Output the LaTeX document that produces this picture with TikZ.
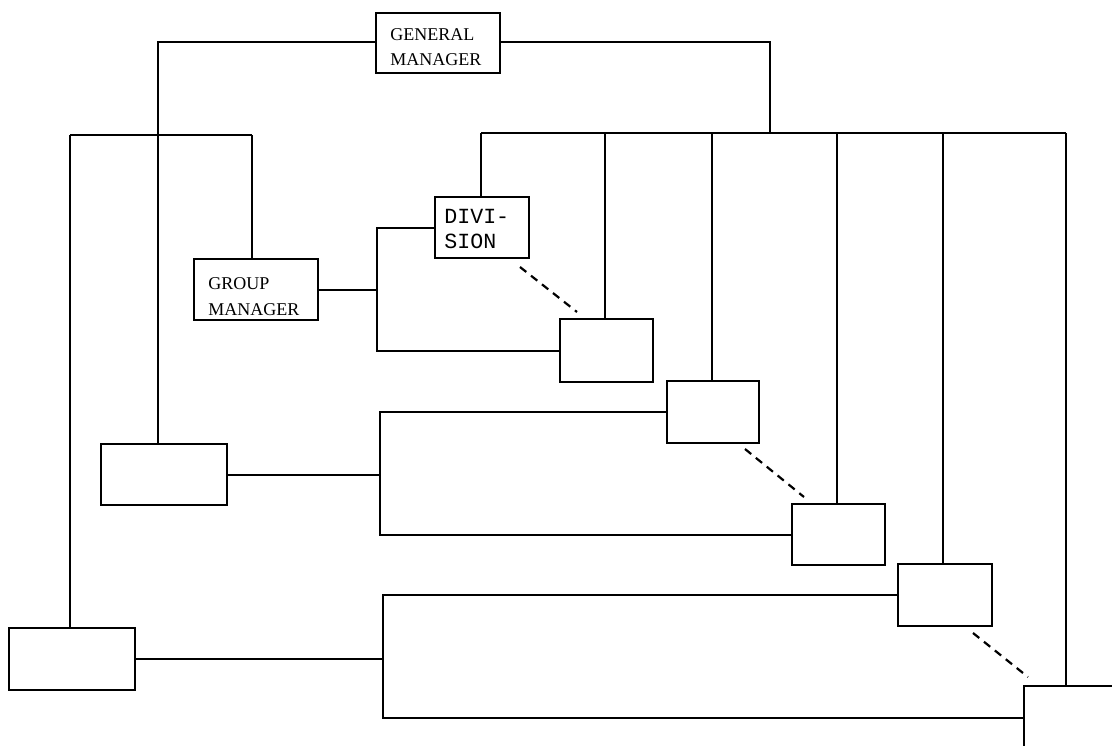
\documentclass[tikz,border=0pt]{standalone}
\usepackage{fontspec}
\setmainfont{Liberation Serif}
\newfontfamily\monofam{Liberation Mono}
\begin{document}
\begin{tikzpicture}[x=0.5pt,y=-0.5pt,
  box/.style={draw, line width=1.1pt, inner sep=0pt, anchor=north west, fill=white},
  conn/.style={line width=1pt},
  dashconn/.style={line width=1.1pt, dash pattern=on 4pt off 3pt},
  lbl/.style={anchor=base west, inner sep=0pt, font=\fontsize{9}{10}\selectfont},
  mlbl/.style={anchor=base west, inner sep=0pt, font=\monofam\fontsize{10.8}{12}\selectfont}]
\useasboundingbox (0,0) rectangle (1112,745);
\clip (0,0) rectangle (1112,745);
% coordinates
\coordinate (busR) at (770,133);
\coordinate (busW) at (481,133);
\coordinate (busE) at (1066,133);
\coordinate (lbusW) at (70,135);
\coordinate (lbusE) at (252,135);
\coordinate (cTop) at (158,443);
\coordinate (fTop) at (70,627);
\coordinate (grpTop) at (252,258);
\coordinate (gTop) at (1066,685);
\coordinate (j1) at (377,288.5);
\coordinate (j2) at (380,473.5);
\coordinate (j3) at (383,658);
\coordinate (d1s) at (520,267);
\coordinate (d1e) at (577,312);
\coordinate (d2s) at (745,449);
\coordinate (d2e) at (804,497);
\coordinate (d3s) at (973,633);
\coordinate (d3e) at (1028,677);
% connectors (drawn first, boxes cover them)
\draw[conn] (375,42) coordinate (gmW) -| (cTop);
\draw[conn] (499,42) coordinate (gmE) -| (busR);
\draw[conn] (busW) -- (busE);
\draw[conn] (lbusW) -- (lbusE);
\draw[conn] (lbusW) -- (fTop);
\draw[conn] (lbusE) -- (grpTop);
\draw[conn] (busW) -- (481,196);
\draw[conn] (605,133) -- (605,318);
\draw[conn] (712,133) -- (712,380);
\draw[conn] (837,133) -- (837,503);
\draw[conn] (943,133) -- (943,563);
\draw[conn] (busE) -- (gTop);
% boxes
\node[box, minimum width=62pt, minimum height=30pt] (gm) at (375,12) {};
\node[box, minimum width=47pt, minimum height=30.5pt] (div) at (434,196) {};
\node[box, minimum width=62pt, minimum height=30.5pt] (grp) at (193,258) {};
\node[box, minimum width=46.5pt, minimum height=31.5pt] (a) at (559,318) {};
\node[box, minimum width=46pt, minimum height=31pt] (b) at (666,380) {};
\node[box, minimum width=63pt, minimum height=30.5pt] (c) at (100,443) {};
\node[box, minimum width=46.5pt, minimum height=30.5pt] (d) at (791,503) {};
\node[box, minimum width=47pt, minimum height=31pt] (e) at (897,563) {};
\node[box, minimum width=63pt, minimum height=31pt] (f) at (8,627) {};
\node[box, minimum width=50pt, minimum height=32pt] (g) at (1023,685) {};
% group connectors
\draw[conn] (grp.east) -- (grp.east -| j1);
\draw[conn] (div.west) -| (j1) |- (a.west);
\draw[conn] (c.east) -- (c.east -| j2);
\draw[conn] (b.west) -| (j2) |- (d.west);
\draw[conn] (f.east) -- (f.east -| j3);
\draw[conn] (e.west) -| (j3) |- (g.west);
% dashed
\draw[dashconn] (d1s) -- (d1e);
\draw[dashconn] (d2s) -- (d2e);
\draw[dashconn] (d3s) -- (d3e);
% labels
\node[lbl] (gm1) at (390,40) {GENERAL};
\node[lbl] (gm2) at (390,65) {MANAGER};
\node[lbl] (grp1) at (208,289) {GROUP};
\node[lbl] (grp2) at (208,315) {MANAGER};
\node[mlbl] (div1) at (444,223) {DIVI-};
\node[mlbl] (div2) at (444,248) {SION};
\end{tikzpicture}
\end{document}
